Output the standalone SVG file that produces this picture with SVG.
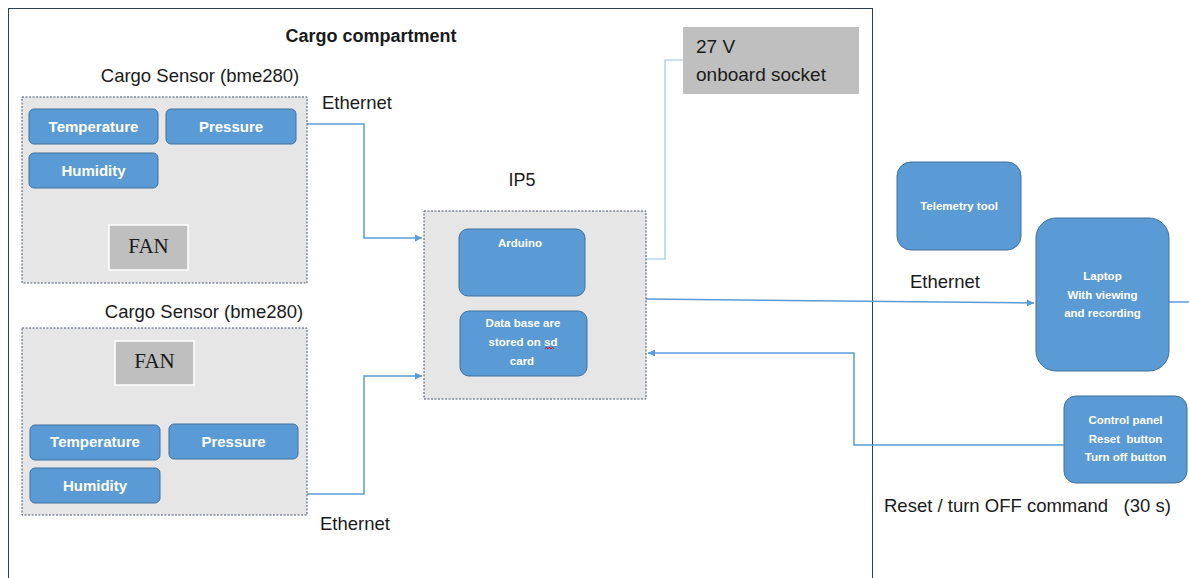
<svg xmlns="http://www.w3.org/2000/svg" width="1189" height="578" viewBox="0 0 1189 578">
<defs>
<style>
.t{font-family:"Liberation Sans","Noto Sans",sans-serif;fill:#1a1a1a}
.w{font-family:"Liberation Sans","Noto Sans",sans-serif;fill:#ffffff;font-weight:bold}
.blue{fill:#5b9bd5;stroke:#41719c;stroke-width:1}
.grp{fill:#e6e6e6;stroke:#44546a;stroke-width:1;stroke-dasharray:2 1.5}
.gray{fill:#bfbfbf}
.fan{fill:#bfbfbf;stroke:#ffffff;stroke-width:1.5}
.ln{fill:none;stroke:#5b9bd5;stroke-width:1.5}
.thin{fill:none;stroke:#9dc3e6;stroke-width:1.2}
</style>
<marker id="ar" viewBox="0 0 10 10" refX="10" refY="5" markerWidth="7" markerHeight="7" orient="auto" markerUnits="userSpaceOnUse">
<path d="M0,0 L10,5 L0,10 z" fill="#5b9bd5"/>
</marker>
</defs>
<rect width="1189" height="578" fill="#ffffff"/>
<g id="frame">
<rect x="8.5" y="8.5" width="864" height="580" fill="none" stroke="#2f3d4f" stroke-width="1"/>
<text class="t" x="371" y="42" font-size="18" font-weight="bold" text-anchor="middle">Cargo compartment</text>
</g>
<g id="connectors">
<polyline class="ln" points="307,124 364,124 364,238 422,238" marker-end="url(#ar)"/>
<polyline class="ln" points="307,494 364,494 364,376 422,376" marker-end="url(#ar)"/>
<polyline class="thin" points="646,259 665,259 665,60 683,60"/>
<polyline class="ln" points="646,299 1034,303" marker-end="url(#ar)"/>
<polyline class="ln" points="1169,302 1189,302"/>
<polyline class="ln" points="1064,445 854,445 854,353 648,353" marker-end="url(#ar)"/>
<text class="t" x="322" y="109" font-size="18.5">Ethernet</text>
<text class="t" x="320" y="530" font-size="18.5">Ethernet</text>
<text class="t" x="910" y="288" font-size="18.5">Ethernet</text>
<text class="t" x="884" y="512" font-size="18.5" xml:space="preserve">Reset / turn OFF command   (30 s)</text>
</g>
<g id="sensor1">
<text class="t" x="200" y="82" font-size="18.5" text-anchor="middle">Cargo Sensor (bme280)</text>
<rect class="grp" x="22" y="97" width="285" height="186"/>
<rect class="blue" x="29" y="109" width="129" height="35" rx="5"/>
<text class="w" x="93.5" y="132" font-size="15" text-anchor="middle">Temperature</text>
<rect class="blue" x="166" y="109" width="130" height="35" rx="5"/>
<text class="w" x="231" y="132" font-size="15" text-anchor="middle">Pressure</text>
<rect class="blue" x="29" y="153" width="129" height="35" rx="5"/>
<text class="w" x="93.5" y="176" font-size="15" text-anchor="middle">Humidity</text>
<rect class="fan" x="109" y="225" width="79" height="45"/>
<text x="148.5" y="253" font-size="21" text-anchor="middle" font-family="Liberation Serif,serif" fill="#1a1a1a">FAN</text>
</g>
<g id="sensor2">
<text class="t" x="204" y="318" font-size="18.5" text-anchor="middle">Cargo Sensor (bme280)</text>
<rect class="grp" x="22" y="328" width="285" height="187"/>
<rect class="fan" x="115" y="341" width="79" height="44"/>
<text x="154.5" y="368" font-size="21" text-anchor="middle" font-family="Liberation Serif,serif" fill="#1a1a1a">FAN</text>
<rect class="blue" x="30" y="425" width="130" height="35" rx="5"/>
<text class="w" x="95" y="447" font-size="15" text-anchor="middle">Temperature</text>
<rect class="blue" x="169" y="424" width="129" height="35" rx="5"/>
<text class="w" x="233.5" y="447" font-size="15" text-anchor="middle">Pressure</text>
<rect class="blue" x="30" y="468" width="130" height="35" rx="5"/>
<text class="w" x="95" y="491" font-size="15" text-anchor="middle">Humidity</text>
</g>
<g id="ip5">
<text class="t" x="522" y="186" font-size="18" text-anchor="middle">IP5</text>
<rect class="grp" x="424" y="211" width="222" height="188"/>
<rect class="blue" x="459" y="229" width="126" height="67" rx="9"/>
<text class="w" x="520" y="247" font-size="11.5" text-anchor="middle">Arduino</text>
<rect class="blue" x="460" y="311" width="127" height="65" rx="9"/>
<text class="w" x="523" y="327" font-size="11.5" text-anchor="middle">Data base are</text>
<text class="w" x="523" y="346" font-size="11.5" text-anchor="middle">stored on sd</text>
<path d="M545,349 l1.5,-2 l1.5,2 l1.5,-2 l1.5,2 l1.5,-2 l1.5,2" fill="none" stroke="#e00000" stroke-width="0.8"/>
<text class="w" x="522" y="365" font-size="11.5" text-anchor="middle">card</text>
</g>
<g id="socket">
<rect class="gray" x="683" y="27" width="176" height="67"/>
<text class="t" x="696" y="53" font-size="19">27 V</text>
<text class="t" x="696" y="81" font-size="19">onboard socket</text>
</g>
<g id="telemetry">
<rect class="blue" x="897" y="162" width="124" height="88" rx="14"/>
<text class="w" x="959" y="210" font-size="11.5" text-anchor="middle">Telemetry tool</text>
</g>
<g id="laptop">
<rect class="blue" x="1036" y="218" width="133" height="153" rx="20"/>
<text class="w" x="1102.5" y="280" font-size="11.5" text-anchor="middle">Laptop</text>
<text class="w" x="1102.5" y="299" font-size="11.5" text-anchor="middle">With viewing</text>
<text class="w" x="1102.5" y="317" font-size="11.5" text-anchor="middle">and recording</text>
</g>
<g id="control">
<rect class="blue" x="1064" y="396" width="123" height="87" rx="12"/>
<text class="w" x="1125.5" y="424" font-size="11.5" text-anchor="middle">Control panel</text>
<text class="w" x="1125.5" y="443" font-size="11.5" text-anchor="middle" xml:space="preserve">Reset  button</text>
<text class="w" x="1125.5" y="461" font-size="11.5" text-anchor="middle">Turn off button</text>
</g>
</svg>
